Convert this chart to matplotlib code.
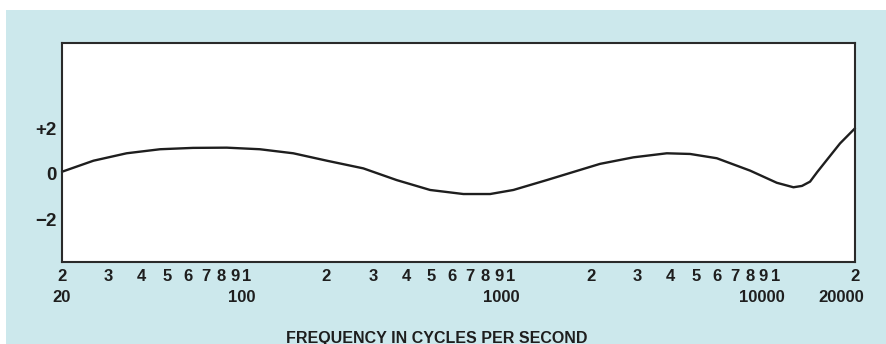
import matplotlib
matplotlib.use("Agg")
import matplotlib.pyplot as plt
import matplotlib.transforms as mtransforms
from matplotlib.patches import Rectangle

# Frequency response, read in dB against frequency in Hz
freq_hz = [20, 26.3, 35.1, 47.0, 62.6, 84.0, 112, 150, 201, 276, 369, 494,
           660, 833, 1020, 1365, 1823, 2170, 2902, 3882, 4756, 6000, 8020,
           10120, 11700, 12600, 13520, 14400, 15640, 17560, 20000]
level_db = [0.1, 0.59, 0.92, 1.10, 1.16, 1.17, 1.10, 0.92, 0.59, 0.25,
            -0.27, -0.71, -0.89, -0.89, -0.71, -0.27, 0.18, 0.45, 0.74, 0.92,
            0.89, 0.70, 0.15, -0.39, -0.59, -0.53, -0.34, 0.09, 0.62, 1.36,
            2.03]

# Axis labelling
y_ticks = [-2, 0, 2]
y_tick_labels = ["\u22122", "0", "+2"]
x_ticks = [20, 30, 40, 50, 60, 70, 80, 90, 100,
           200, 300, 400, 500, 600, 700, 800, 900, 1000,
           2000, 3000, 4000, 5000, 6000, 7000, 8000, 9000, 10000, 20000]
x_tick_labels = ["2", "3", "4", "5", "6", "7", "8", "9", "1",
                 "2", "3", "4", "5", "6", "7", "8", "9", "1",
                 "2", "3", "4", "5", "6", "7", "8", "9", "1", "2"]
decade_values = [20, 100, 1000, 10000, 20000]
decade_labels = ["20", "100", "1000", "10000", "20000"]
x_title = "FREQUENCY IN CYCLES PER SECOND"

W, H = 887, 344
PAPER = "#cce8ec"
INK = "#1e1e1e"
FONT = ["Liberation Sans", "DejaVu Sans"]
TITLE_FONT = ["Liberation Sans Narrow", "Liberation Sans", "DejaVu Sans"]

fig = plt.figure(figsize=(W / 100, H / 100), dpi=100, facecolor="white")

# tinted page area behind the chart
fig.patches.append(Rectangle((6 / W, 0), 1, (H - 10) / H, transform=fig.transFigure,
                             facecolor=PAPER, edgecolor="none", zorder=-10))

left, right, top, bottom = 62, 855, 43, 262
ax = fig.add_axes([left / W, (H - bottom) / H, (right - left) / W, (bottom - top) / H])
ax.set_facecolor("white")

ax.plot(freq_hz, level_db, color=INK, lw=1.7, solid_capstyle="round",
        solid_joinstyle="round", clip_on=False)

ax.set_xscale("log")
ax.set_xlim(20, 20000)
ax.set_ylim(-3.91, 5.82)

for side in ["left", "right", "top", "bottom"]:
    ax.spines[side].set_color("#2a2a2a")
    ax.spines[side].set_linewidth(1.5)

ax.set_yticks(y_ticks)
ax.set_yticklabels(y_tick_labels, fontfamily=FONT, fontsize=13.5,
                   fontweight="bold", color=INK)
ax.tick_params(axis="y", length=0, pad=4)

ax.xaxis.set_minor_locator(matplotlib.ticker.NullLocator())
ax.set_xticks(x_ticks)
ax.set_xticklabels(x_tick_labels, fontfamily=FONT, fontsize=12,
                   fontweight="bold", color=INK)
ax.tick_params(axis="x", length=0, pad=5)

# decade values sit under the digit row, right-aligned just past the tick
shift = mtransforms.ScaledTranslation(9 / 100, 0, fig.dpi_scale_trans)
row = mtransforms.blended_transform_factory(ax.transData, ax.transAxes) + shift
for val, lab in zip(decade_values, decade_labels):
    ax.text(val, -0.162, lab, transform=row, ha="right", va="center",
            fontfamily=FONT, fontsize=12, fontweight="bold", color=INK)

fig.text(437 / W, 1 - 338 / H, x_title, ha="center", va="center",
         fontfamily=TITLE_FONT, fontsize=11.5, fontweight="bold", color=INK)

fig.savefig("out.png", dpi=100, facecolor=fig.get_facecolor())
